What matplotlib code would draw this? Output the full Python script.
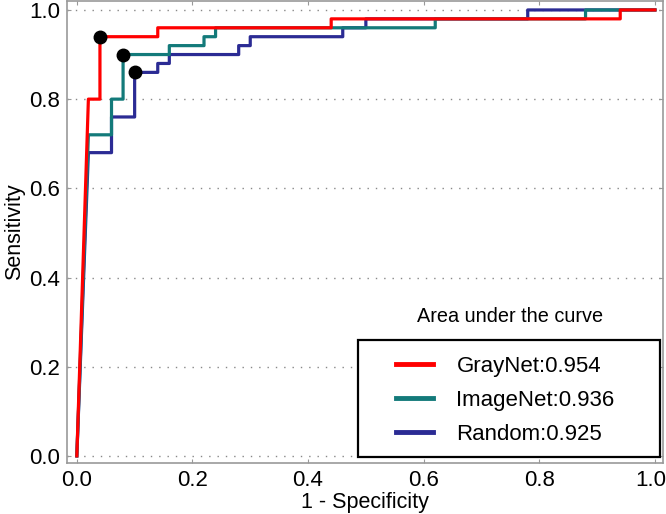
import matplotlib
matplotlib.use("Agg")
import matplotlib.pyplot as plt
import matplotlib.transforms as mtransforms
from matplotlib.lines import Line2D
from matplotlib.patches import Rectangle

plt.rcParams['font.family'] = ['Liberation Sans', 'DejaVu Sans']

# ROC curve vertices (fpr, tpr)
graynet_fpr = [0.0, 0.02, 0.04, 0.04, 0.14, 0.14, 0.44, 0.44, 0.94, 0.94, 1.0]
graynet_tpr = [0.0, 0.80, 0.80, 0.94, 0.94, 0.96, 0.96, 0.98, 0.98, 1.00, 1.0]

imagenet_fpr = [0.0, 0.02, 0.06, 0.06, 0.08, 0.08, 0.16, 0.16, 0.22, 0.22, 0.24, 0.24, 0.62, 0.62, 0.88, 0.88, 1.0]
imagenet_tpr = [0.0, 0.72, 0.72, 0.80, 0.80, 0.90, 0.90, 0.92, 0.92, 0.94, 0.94, 0.96, 0.96, 0.98, 0.98, 1.00, 1.0]

random_fpr = [0.0, 0.02, 0.06, 0.06, 0.10, 0.10, 0.14, 0.14, 0.16, 0.16, 0.28, 0.28, 0.30, 0.30, 0.46, 0.46, 0.50, 0.50, 0.78, 0.78, 1.0]
random_tpr = [0.0, 0.68, 0.68, 0.76, 0.76, 0.86, 0.86, 0.88, 0.88, 0.90, 0.90, 0.92, 0.92, 0.94, 0.94, 0.96, 0.96, 0.98, 0.98, 1.00, 1.0]

# operating points
op_fpr = [0.04, 0.08, 0.10]
op_tpr = [0.94, 0.90, 0.86]

labels = ["GrayNet:0.954", "ImageNet:0.936", "Random:0.925"]
colors = ["#ff0000", "#137a7a", "#2b2b94"]

W, H = 666, 514
fig = plt.figure(figsize=(W / 100, H / 100), dpi=100)
ax = fig.add_axes([0.1006, 0.0992, 0.8949, 0.8988])

ax.plot(random_fpr, random_tpr, color=colors[2], lw=2.3, zorder=3)
ax.plot(imagenet_fpr, imagenet_tpr, color=colors[1], lw=2.3, zorder=4)
ax.plot(graynet_fpr, graynet_tpr, color=colors[0], lw=2.3, zorder=5)
ax.plot(op_fpr, op_tpr, 'o', color='black', ms=9, zorder=6)

ax.set_xlim(-0.017, 1.014)
ax.set_ylim(-0.016, 1.02)
ax.set_xticks([0.0, 0.2, 0.4, 0.6, 0.8, 1.0])
ax.set_yticks([0.0, 0.2, 0.4, 0.6, 0.8, 1.0])
ax.yaxis.grid(True, linestyle=(0, (1, 5)), color='#888888', lw=1.0)
ax.set_axisbelow(True)
ax.tick_params(direction='in', length=3, color='#999999', labelsize=16,
               top=True, right=True, pad=5)
for s in ax.spines.values():
    s.set_color('#999999')
    s.set_linewidth(1.2)

# nudge the last x tick label so it stays inside the figure
fig.canvas.draw()
last = ax.get_xticklabels()[-1]
last.set_transform(last.get_transform() +
                   mtransforms.ScaledTranslation(-4 / 100, 0, fig.dpi_scale_trans))

ax.set_xlabel("1 - Specificity", fontsize=15.5, labelpad=1)
ax.set_ylabel("Sensitivity", fontsize=15.5, labelpad=3)

# legend frame drawn separately (title sits outside it)
box_l, box_t, box_r, box_b = 358, 340, 660, 457
frame = Rectangle((box_l / W, 1 - box_b / H), (box_r - box_l) / W, (box_b - box_t) / H,
                  transform=fig.transFigure, facecolor='white', edgecolor='black',
                  lw=1.6, zorder=9)
fig.add_artist(frame)

handles = [Line2D([], [], color=c, lw=3.5) for c in colors]
leg = fig.legend(handles, labels, loc='center', fontsize=16, frameon=False,
                 handlelength=1.67, handletextpad=1.04, labelspacing=0.58,
                 borderpad=0.0, bbox_to_anchor=(505.5 / W, 1 - 400.5 / H))
leg.set_zorder(10)

fig.text(510 / W, 1 - 317 / H, "Area under the curve", ha='center', va='center', fontsize=14.3)

fig.savefig("out.png", dpi=100)
